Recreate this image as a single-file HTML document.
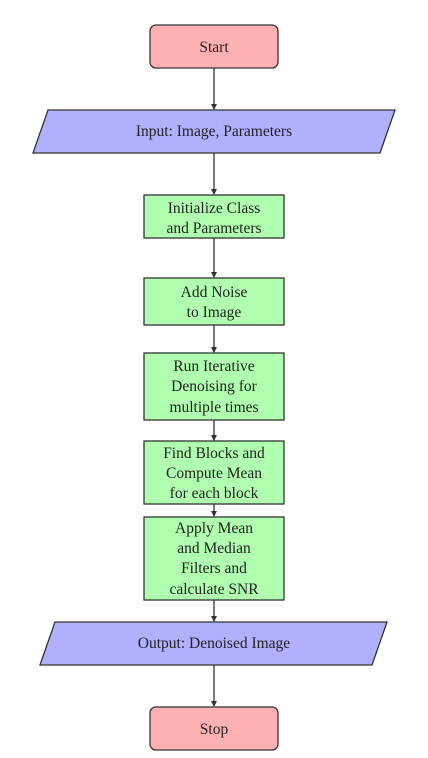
<!DOCTYPE html>
<html><head><style>body{margin:0;background:#fff}svg{display:block}text{font-family:"Liberation Serif",serif;font-size:15.5px;fill:#222;text-anchor:middle}</style></head><body>
<svg width="428" height="758" viewBox="0 0 428 758">
<defs><marker id="a" markerWidth="6" markerHeight="6" refX="5" refY="3" orient="auto" markerUnits="userSpaceOnUse"><path d="M0,0 L6,3 L0,6 z" fill="#333"/></marker></defs>
<g stroke="#333" stroke-width="1.3">
<line x1="214" y1="68" x2="214" y2="109" marker-end="url(#a)"/>
<line x1="214" y1="153" x2="214" y2="194" marker-end="url(#a)"/>
<line x1="214" y1="238" x2="214" y2="277" marker-end="url(#a)"/>
<line x1="214" y1="325" x2="214" y2="352" marker-end="url(#a)"/>
<line x1="214" y1="420" x2="214" y2="440" marker-end="url(#a)"/>
<line x1="214" y1="504" x2="214" y2="516" marker-end="url(#a)"/>
<line x1="214" y1="600" x2="214" y2="621" marker-end="url(#a)"/>
<line x1="214" y1="665" x2="214" y2="706" marker-end="url(#a)"/>
<rect x="150" y="25" width="128" height="43" rx="6" fill="#ffb0b0"/>
<polygon points="48,110 395,110 380,153 33,153" fill="#b0b0ff"/>
<rect x="144" y="195" width="140" height="43" fill="#b0ffb0"/>
<rect x="144" y="278" width="140" height="47" fill="#b0ffb0"/>
<rect x="144" y="353" width="140" height="67" fill="#b0ffb0"/>
<rect x="144" y="441" width="140" height="63" fill="#b0ffb0"/>
<rect x="144" y="517" width="140" height="83" fill="#b0ffb0"/>
<polygon points="55,622 387,622 372,665 40,665" fill="#b0b0ff"/>
<rect x="150" y="707" width="128" height="43" rx="6" fill="#ffb0b0"/>
</g>
<text x="214" y="52">Start</text>
<text x="214" y="136">Input: Image, Parameters</text>
<text x="214" y="213">Initialize Class</text><text x="214" y="233">and Parameters</text>
<text x="214" y="297">Add Noise</text><text x="214" y="317">to Image</text>
<text x="214" y="371">Run Iterative</text><text x="214" y="391">Denoising for</text><text x="214" y="412">multiple times</text>
<text x="214" y="458">Find Blocks and</text><text x="214" y="478">Compute Mean</text><text x="214" y="498">for each block</text>
<text x="214" y="533">Apply Mean</text><text x="214" y="553">and Median</text><text x="214" y="573">Filters and</text><text x="214" y="594">calculate SNR</text>
<text x="214" y="648">Output: Denoised Image</text>
<text x="214" y="734">Stop</text>
</svg></body></html>
